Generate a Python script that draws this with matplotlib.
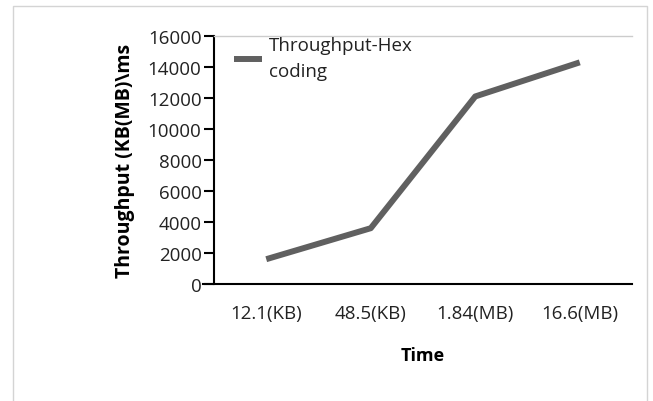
import matplotlib
matplotlib.use("Agg")
import matplotlib.pyplot as plt
from matplotlib.patches import Rectangle

categories = ["12.1(KB)", "48.5(KB)", "1.84(MB)", "16.6(MB)"]
throughput = [1600, 3600, 12100, 14300]
yticks = [0, 2000, 4000, 6000, 8000, 10000, 12000, 14000, 16000]
series_name = "Throughput-Hex\ncoding"

plt.rcParams['font.family'] = ['Open Sans', 'DejaVu Sans']

fig = plt.figure(figsize=(6.53, 4.02), dpi=100)
fig.patch.set_facecolor('white')

# outer frame
fig.add_artist(Rectangle((13/653, -0.05), (647-13)/653, (402-7)/402 + 0.05,
                         transform=fig.transFigure, fill=False,
                         edgecolor='#d4d4d4', linewidth=1.0))

ax = fig.add_axes([214/653, (402-285)/402, (632-214)/653, (285-37)/402])
x = list(range(len(categories)))
ax.plot(x, throughput, color='#606060', linewidth=4.3, solid_capstyle='butt',
        label=series_name)

ax.set_xlim(-0.5, len(categories) - 0.5)
ax.set_ylim(0, 16000)
ax.set_xticks(x)
ax.set_xticklabels(categories)
ax.set_yticks(yticks)
ax.set_yticklabels([str(v) for v in yticks])

ax.tick_params(axis='x', length=0, pad=14.5, labelsize=13.5, colors='#222222')
ax.tick_params(axis='y', length=7, width=1.5, pad=2, labelsize=13.5,
               colors='#222222')
ax.tick_params(axis='y', color='black')

ax.spines['right'].set_visible(False)
ax.spines['top'].set_color('#cccccc')
ax.spines['top'].set_linewidth(1.0)
ax.spines['left'].set_linewidth(1.5)
ax.spines['bottom'].set_linewidth(1.5)
ax.spines['bottom'].set_bounds(-0.5 - 11/104.5, len(categories) - 0.5)

ax.set_xlabel("Time", fontsize=13, fontweight='bold', labelpad=17)
ax.set_ylabel("Throughput (KB(MB)\\ms", fontsize=14, fontweight='bold',
              labelpad=9)

leg = ax.legend(loc='upper left', bbox_to_anchor=(0.048, 1.0), frameon=False,
                borderpad=0, borderaxespad=0, handlelength=1.5,
                handletextpad=0.35, fontsize=13.5)
for t in leg.get_texts():
    t.set_color('#222222')
    t.set_linespacing(1.6)

fig.savefig("out.png", dpi=100)
